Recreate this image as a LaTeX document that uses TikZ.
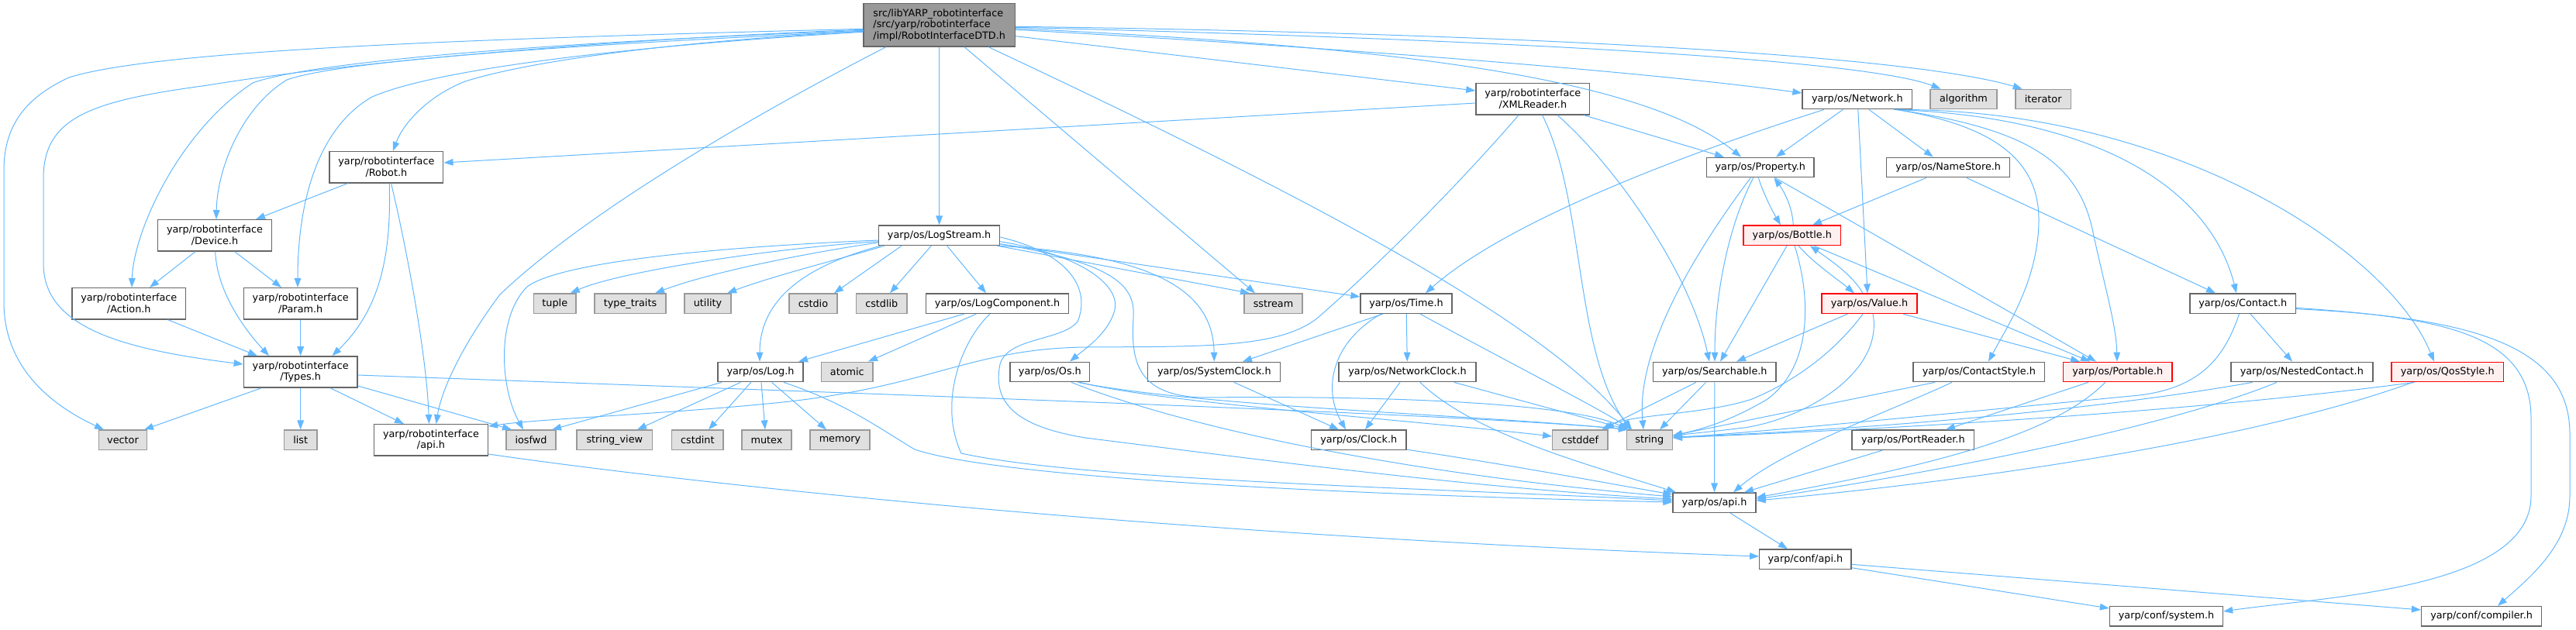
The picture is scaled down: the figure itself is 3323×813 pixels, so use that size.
\documentclass[tikz,border=0pt]{standalone}
\usepackage{fontspec}
\setmainfont{DejaVu Sans}
\usetikzlibrary{arrows.meta,calc}
\definecolor{edgec}{HTML}{63B8FF}
\definecolor{nodeb}{HTML}{666666}
\definecolor{grayf}{HTML}{E0E0E0}
\definecolor{grayb}{HTML}{999999}
\definecolor{rootf}{HTML}{999999}
\definecolor{redf}{HTML}{FFF0F0}
\definecolor{redb}{HTML}{FF0000}
\newcommand\nodefnt{\fontsize{9.6pt}{11pt}\selectfont}
\begin{document}
\begin{tikzpicture}[x=0.75pt,y=-0.75pt,
  mw/.style={minimum width=#1*0.75pt},
  mh/.style={minimum height=#1*0.75pt},
  nb/.style={draw=nodeb, fill=white, line width=1pt, inner sep=0pt, mh=25.5, align=center, font=\nodefnt},
  gb/.style={nb, draw=grayb, fill=grayf},
  rb/.style={nb, draw=redb, fill=redf},
  rootb/.style={nb, fill=rootf, align=left},
  conn/.style={draw=edgec, line width=0.75pt, -{Triangle[length=9pt,width=6.5pt]}}]
\useasboundingbox (0,0) rectangle (3323,813);
% ---------- nodes ----------
\node[rootb, mw=195.4, mh=55.3] (root) at (1211.7,32.3) {src/libYARP\_robotinterface\\/src/yarp/robotinterface\\/impl/RobotInterfaceDTD.h};
\node[nb, mw=146.8, mh=40.3] (robot) at (498.4,215.8) {yarp/robotinterface\\/Robot.h};
\node[nb, mw=146.8, mh=40.3] (device) at (277,303.8) {yarp/robotinterface\\/Device.h};
\node[nb, mw=146.8, mh=40.3] (action) at (166.3,391.8) {yarp/robotinterface\\/Action.h};
\node[nb, mw=146.8, mh=40.3] (param) at (387.7,391.8) {yarp/robotinterface\\/Param.h};
\node[nb, mw=146.8, mh=40.3] (types) at (387.7,480) {yarp/robotinterface\\/Types.h};
\node[nb, mw=146.8, mh=40.3] (riapi) at (556,567.8) {yarp/robotinterface\\/api.h};
\node[nb, mw=146.8, mh=40.3] (xml) at (1977.3,127.8) {yarp/robotinterface\\/XMLReader.h};
\node[gb, mw=62.5] (vector) at (158.5,567.8) {vector};
\node[gb, mw=42.4] (list) at (387.7,567.8) {list};
\node[gb, mw=64] (iosfwd) at (685,567.8) {iosfwd};
\node[gb, mw=97.6] (stringview) at (792.8,567.8) {string\_view};
\node[gb, mw=66.4] (cstdint) at (899.8,567.8) {cstdint};
\node[gb, mw=64] (mutex) at (989,567.8) {mutex};
\node[gb, mw=77] (memory) at (1083.5,567.8) {memory};
\node[nb, mw=110] (log) at (981,480) {yarp/os/Log.h};
\node[gb, mw=66.5] (atomic) at (1092.8,480) {atomic};
\node[gb, mw=54.5] (tuple) at (715.8,391.7) {tuple};
\node[gb, mw=92] (typetraits) at (813,391.7) {type\_traits};
\node[gb, mw=60] (utility) at (913,391.7) {utility};
\node[gb, mw=62] (cstdio) at (1049,391.7) {cstdio};
\node[gb, mw=65.5] (cstdlib) at (1137.3,391.7) {cstdlib};
\node[nb, mw=156.2] (logstream) at (1211.6,303.8) {yarp/os/LogStream.h};
\node[nb, mw=184] (logcomp) at (1286.6,391.7) {yarp/os/LogComponent.h};
\node[gb, mw=75] (sstream) at (1642.5,391.7) {sstream};
\node[nb, mw=118] (time) at (1814,391.7) {yarp/os/Time.h};
\node[nb, mw=102.8] (os) at (1354.4,480) {yarp/os/Os.h};
\node[nb, mw=171] (sysclock) at (1566.3,480) {yarp/os/SystemClock.h};
\node[nb, mw=177] (netclock) at (1815.5,480) {yarp/os/NetworkClock.h};
\node[nb, mw=122.5] (clock) at (1752.8,567.8) {yarp/os/Clock.h};
\node[nb, mw=141.6] (network) at (2395.8,128) {yarp/os/Network.h};
\node[gb, mw=86] (algorithm) at (2533,128) {algorithm};
\node[gb, mw=71.4] (iterator) at (2635.7,128) {iterator};
\node[nb, mw=138.3] (property) at (2270.8,216) {yarp/os/Property.h};
\node[nb, mw=159] (namestore) at (2513.2,216) {yarp/os/NameStore.h};
\node[rb, mw=125.7] (bottle) at (2311.8,303.8) {yarp/os/Bottle.h};
\node[rb, mw=123] (value) at (2411.5,391.8) {yarp/os/Value.h};
\node[nb, mw=136.5] (contact) at (2893.2,391.7) {yarp/os/Contact.h};
\node[nb, mw=158.4] (searchable) at (2211.8,480) {yarp/os/Searchable.h};
\node[nb, mw=169.7] (contactstyle) at (2552.9,480) {yarp/os/ContactStyle.h};
\node[rb, mw=140] (portable) at (2731.8,480) {yarp/os/Portable.h};
\node[nb, mw=183] (nested) at (2969.3,480) {yarp/os/NestedContact.h};
\node[rb, mw=144.6] (qos) at (3157.3,480) {yarp/os/QosStyle.h};
\node[gb, mw=71.3] (cstddef) at (2038.4,567.8) {cstddef};
\node[gb, mw=59] (string) at (2127.8,567.8) {string};
\node[nb, mw=157.6] (portreader) at (2467.8,567.8) {yarp/os/PortReader.h};
\node[nb, mw=107] (osapi) at (2211.5,648.7) {yarp/os/api.h};
\node[nb, mw=118.2] (confapi) at (2328.9,721.8) {yarp/conf/api.h};
\node[nb, mw=146] (system) at (2794.5,795.2) {yarp/conf/system.h};
\node[nb, mw=155.2] (compiler) at (3201.1,795.2) {yarp/conf/compiler.h};
% ---------- root edges ----------
\draw[conn] ($(root.west)+(0,5)$) .. controls (600,50) and (200,65) .. (89,100) .. controls (35,125) and (5,160) .. (5,220) -- (5,390) .. controls (5,470) and (60,520) .. ($(vector.north)+(-24.5,0)$);
\draw[conn] ($(root.west)+(0,6)$) .. controls (800,50) and (450,80) .. (268,110) .. controls (120,130) and (56,150) .. (56,230) -- (56,340) .. controls (56,420) and (150,450) .. ($(types.west)+(0,-10)$);
\draw[conn] ($(root.west)+(0,7)$) .. controls (700,55) and (400,80) .. (326,107) .. controls (230,170) and (172,300) .. ($(action.north)+(3.7,0)$);
\draw[conn] ($(root.west)+(0,8)$) .. controls (800,55) and (450,75) .. (370,103) .. controls (310,140) and (280,220) .. ($(device.north)+(2,0)$);
\draw[conn] ($(root.west)+(0,9)$) .. controls (800,60) and (560,90) .. (480,125) .. controls (410,165) and (384,260) .. ($(param.north)+(-3.7,0)$);
\draw[conn] ($(root.west)+(0,8)$) .. controls (850,55) and (680,80) .. (600,105) .. controls (550,125) and (520,160) .. ($(robot.north)+(8.4,0)$);
\draw[conn] ($(root.south)+(-68.7,0)$) .. controls (950,160) and (750,280) .. (645,380) .. controls (600,440) and (570,500) .. ($(riapi.north)+(6.6,0)$);
\draw[conn] (root) -- (logstream);
\draw[conn] ($(root.south)+(32.3,0)$) -- ($(sstream.north)+(-23.5,0)$);
\draw[conn] ($(root.south)+(63.3,0)$) .. controls (1700,260) and (2000,420) .. ($(string.north)+(-22.8,0)$);
\draw[conn] ($(root.east)+(0,14.4)$) -- ($(xml.west)+(0,-10.8)$);
\draw[conn] ($(root.east)+(0,4.4)$) .. controls (1800,60) and (2120,100) .. ($(property.north)+(-24.8,0)$);
\draw[conn] ($(root.east)+(0,6)$) .. controls (1700,60) and (2100,90) .. ($(network.west)+(0,-8)$);
\draw[conn] ($(root.east)+(0,3)$) .. controls (1900,50) and (2400,75) .. ($(algorithm.north)+(-29.6,0)$);
\draw[conn] ($(root.east)+(0,2)$) .. controls (1900,42) and (2450,68) .. ($(iterator.north)+(-27,0)$);
% ---------- XMLReader ----------
\draw[conn] ($(xml.west)+(0,5.2)$) -- ($(robot.east)+(0,-5.8)$);
\draw[conn] ($(xml.south)+(-18.3,0)$) .. controls (1880,240) and (1780,340) .. (1700,410) .. controls (1650,450) and (1550,447) .. (1400,448) .. controls (1250,450) and (1200,500) .. (1000,520) .. controls (850,535) and (700,540) .. ($(riapi.east)+(0,-17.8)$);
\draw[conn] ($(xml.south)+(65.7,0)$) -- ($(property.north)+(-46.8,0)$);
\draw[conn] ($(xml.south)+(12.3,0)$) .. controls (2045,260) and (2030,450) .. ($(string.north)+(-24.8,0)$);
\draw[conn] ($(xml.south)+(31.7,0)$) .. controls (2080,210) and (2180,350) .. ($(searchable.north)+(-6.8,0)$);
% ---------- Network ----------
\draw[conn] ($(network.south)+(-18.4,0)$) -- ($(property.north)+(20.2,0)$);
\draw[conn] ($(network.south)+(15.2,0)$) -- ($(namestore.north)+(-19.5,0)$);
\draw[conn] ($(network.south)+(1,0)$) -- ($(value.north)+(-2.5,0)$);
\draw[conn] ($(network.south)+(-42.8,0)$) .. controls (2200,190) and (1950,280) .. ($(time.north)+(25,0)$);
\draw[conn] ($(network.south)+(47,0)$) .. controls (2700,150) and (2850,240) .. ($(contact.north)+(-8.2,0)$);
\draw[conn] ($(network.south)+(49,0)$) .. controls (2800,140) and (3080,320) .. ($(qos.north)+(-17.3,0)$);
\draw[conn] ($(network.south)+(50,0)$) .. controls (2560,160) and (2630,200) .. (2630,283) .. controls (2630,360) and (2590,420) .. ($(contactstyle.north)+(12.1,0)$);
\draw[conn] ($(network.south)+(51,0)$) .. controls (2600,165) and (2680,200) .. (2700,300) .. controls (2715,370) and (2730,420) .. ($(portable.north)+(-0.8,0)$);
% ---------- Property / Bottle / Value ----------
\draw[conn] ($(property.south)+(-2.5,0)$) .. controls (2275,250) and (2285,270) .. ($(bottle.north)+(-14.8,0)$);
\draw[conn] ($(bottle.north)+(1.5,0)$) .. controls (2312,265) and (2300,245) .. ($(property.south)+(17.5,0)$);
\draw[conn] ($(property.south)+(-9,0)$) .. controls (2230,290) and (2212,380) .. ($(searchable.north)+(0.2,0)$);
\draw[conn] ($(property.south)+(-12.5,0)$) .. controls (2190,320) and (2110,450) .. ($(string.north)+(-7.8,0)$);
\draw[conn] ($(property.south)+(19.2,0)$) -- ($(portable.north)+(-27.8,0)$);
\draw[conn] ($(bottle.south)+(-6.8,0)$) -- ($(searchable.north)+(7.2,0)$);
\draw[conn] ($(bottle.south)+(3.2,0)$) .. controls (2335,380) and (2340,470) .. (2280,515) .. controls (2230,545) and (2190,555) .. ($(string.east)+(0,-5.8)$);
\draw[conn] ($(bottle.south)+(8.2,0)$) .. controls (2340,340) and (2370,360) .. ($(value.north)+(-19.5,0)$);
\draw[conn] ($(bottle.south)+(28.2,0)$) -- ($(portable.north)+(-35.8,0)$);
\draw[conn] ($(value.north)+(-8.5,0)$) .. controls (2390,355) and (2360,335) .. ($(bottle.south)+(23.2,0)$);
\draw[conn] ($(value.south)+(-28.2,0)$) -- ($(searchable.north)+(28.2,0)$);
\draw[conn] ($(value.south)+(-8.5,0)$) .. controls (2370,450) and (2320,490) .. (2260,515) .. controls (2200,535) and (2100,535) .. ($(cstddef.north)+(31.6,0)$);
\draw[conn] ($(value.south)+(4.5,0)$) .. controls (2430,480) and (2330,540) .. (2250,552) .. controls (2200,558) and (2175,560) .. ($(string.east)+(0,-4.8)$);
\draw[conn] ($(value.south)+(43.5,0)$) -- ($(portable.north)+(-48.8,0)$);
% ---------- NameStore / Contact ----------
\draw[conn] ($(namestore.south)+(-28.2,0)$) -- ($(bottle.north)+(26.2,0)$);
\draw[conn] ($(namestore.south)+(23.5,0)$) -- ($(contact.north)+(-35.2,0)$);
\draw[conn] ($(contact.south)+(9.8,0)$) -- ($(nested.north)+(-12.3,0)$);
\draw[conn] ($(contact.south)+(-4.7,0)$) .. controls (2870,460) and (2840,500) .. (2760,510) .. controls (2500,535) and (2300,555) .. ($(string.east)+(0,-2.8)$);
\draw[conn] ($(contact.east)+(0,5.6)$) .. controls (3150,410) and (3265,430) .. (3265,540) -- (3265,640) .. controls (3265,760) and (3000,770) .. ($(system.east)+(0,-6.2)$);
\draw[conn] ($(contact.east)+(0,7)$) .. controls (3200,410) and (3315,450) .. (3315,560) -- (3315,640) .. controls (3315,700) and (3270,740) .. ($(compiler.north)+(20.9,0)$);
% ---------- Nested / Qos / Portable / ContactStyle / PortReader ----------
\draw[conn] ($(nested.south)+(-63.8,0)$) .. controls (2700,530) and (2400,555) .. ($(string.east)+(0,-3.8)$);
\draw[conn] ($(nested.south)+(-32.3,0)$) .. controls (2800,550) and (2500,610) .. ($(osapi.east)+(0,-4.7)$);
\draw[conn] ($(qos.south)+(-42.6,0)$) .. controls (2800,535) and (2400,555) .. ($(string.east)+(0,-2.8)$);
\draw[conn] ($(qos.south)+(-45,0)$) .. controls (2900,570) and (2550,620) .. ($(osapi.east)+(0,-2.7)$);
\draw[conn] ($(portable.south)+(-38,0)$) -- ($(portreader.north)+(42.2,0)$);
\draw[conn] ($(portable.south)+(-16.1,0)$) .. controls (2650,560) and (2500,600) .. ($(osapi.east)+(0,-6.7)$);
\draw[conn] ($(contactstyle.south)+(-56.9,0)$) -- ($(string.east)+(0,-5.8)$);
\draw[conn] ($(contactstyle.south)+(-34.9,0)$) .. controls (2440,530) and (2300,580) .. ($(osapi.north)+(24.5,0)$);
\draw[conn] ($(portreader.south)+(-39.8,0)$) -- ($(osapi.north)+(38.5,0)$);
% ---------- Searchable / api ----------
\draw[conn] ($(searchable.south)+(-23.8,0)$) -- ($(cstddef.north)+(27.6,0)$);
\draw[conn] ($(searchable.south)+(-11.3,0)$) -- ($(string.north)+(13.2,0)$);
\draw[conn] (searchable) -- (osapi);
\draw[conn] ($(osapi.south)+(20.5,0)$) -- ($(confapi.north)+(-22.9,0)$);
\draw[conn] ($(confapi.east)+(0,6.5)$) -- ($(compiler.west)+(0,-8.2)$);
\draw[conn] ($(confapi.east)+(0,10.9)$) -- ($(system.west)+(0,-10.2)$);
\draw[conn] ($(riapi.east)+(0,18.2)$) .. controls (900,625) and (1500,690) .. ($(confapi.west)+(0,-3.8)$);
% ---------- robotinterface ----------
\draw[conn] ($(robot.south)+(-49.8,0)$) -- ($(device.north)+(53,0)$);
\draw[conn] ($(robot.south)+(3.8,0)$) .. controls (505,330) and (490,400) .. ($(types.north)+(40.8,0)$);
\draw[conn] ($(robot.south)+(6.1,0)$) .. controls (520,300) and (550,450) .. ($(riapi.north)+(-2.5,0)$);
\draw[conn] ($(device.south)+(-24.8,0)$) -- ($(action.north)+(26.7,0)$);
\draw[conn] ($(device.south)+(25.7,0)$) -- ($(param.north)+(-24.7,0)$);
\draw[conn] ($(device.south)+(0.7,0)$) .. controls (280,380) and (320,430) .. ($(types.north)+(-40.7,0)$);
\draw[conn] ($(action.south)+(50.2,0)$) -- ($(types.north)+(-55.7,0)$);
\draw[conn] (param) -- (types);
\draw[conn] ($(types.south)+(-50.7,0)$) -- ($(vector.north)+(27.5,0)$);
\draw[conn] (types) -- (list);
\draw[conn] ($(types.south)+(38.6,0)$) -- ($(riapi.north)+(-35,0)$);
\draw[conn] ($(types.east)+(0,18)$) -- ($(iosfwd.north)+(-25,0)$);
\draw[conn] ($(types.east)+(0,4)$) .. controls (1200,511) and (1900,535) .. ($(string.north)+(-27.8,0)$);
% ---------- LogStream ----------
\draw[conn] ($(logstream.west)+(0,6.2)$) .. controls (900,320) and (720,340) .. (680,370) .. controls (640,410) and (645,500) .. ($(iosfwd.north)+(-10,0)$);
\draw[conn] ($(logstream.west)+(0,7.9)$) .. controls (1000,320) and (800,350) .. ($(tuple.north)+(20,0)$);
\draw[conn] ($(logstream.west)+(0,9.2)$) .. controls (1050,325) and (920,350) .. ($(typetraits.north)+(32,0)$);
\draw[conn] ($(logstream.south)+(-71,0)$) .. controls (1100,330) and (1000,355) .. ($(utility.north)+(25,0)$);
\draw[conn] ($(logstream.south)+(-48.6,0)$) -- ($(cstdio.north)+(27,0)$);
\draw[conn] ($(logstream.south)+(-10.3,0)$) -- ($(cstdlib.north)+(10.7,0)$);
\draw[conn] ($(logstream.south)+(-75.6,0)$) .. controls (1050,340) and (980,380) .. ($(log.north)+(-1,0)$);
\draw[conn] ($(logstream.south)+(10.1,0)$) -- ($(logcomp.north)+(-14.6,0)$);
\draw[conn] ($(logstream.south)+(75,0)$) -- ($(sstream.north)+(-30.5,0)$);
\draw[conn] ($(logstream.east)+(0,11.2)$) -- ($(time.west)+(0,-8.7)$);
\draw[conn] ($(logstream.east)+(0,7.9)$) .. controls (1400,330) and (1445,370) .. (1438,400) .. controls (1430,430) and (1400,450) .. ($(os.north)+(25.6,0)$);
\draw[conn] ($(logstream.east)+(0,2.2)$) .. controls (1390,330) and (1405,380) .. (1390,415) .. controls (1370,440) and (1300,435) .. (1290,470) .. controls (1280,520) and (1310,550) .. (1400,565) .. controls (1600,590) and (1900,630) .. ($(osapi.west)+(0,-4.7)$);
\draw[conn] ($(logstream.south)+(77,0)$) .. controls (1500,330) and (1565,380) .. (sysclock.north);
\draw[conn] ($(logstream.east)+(0,11)$) .. controls (1440,340) and (1465,370) .. (1462,410) .. controls (1458,470) and (1470,510) .. (1550,513) .. controls (1850,510) and (2040,525) .. ($(string.north)+(-27.8,0)$);
% ---------- Os / clocks / time ----------
\draw[conn] ($(os.south)+(38.6,0)$) .. controls (1500,520) and (1800,540) .. ($(cstddef.west)+(0,-4.8)$);
\draw[conn] ($(os.south)+(36,0)$) .. controls (1550,525) and (1900,535) .. ($(string.north)+(-27.8,0)$);
\draw[conn] ($(os.south)+(27.6,0)$) .. controls (1550,560) and (1850,615) .. ($(osapi.west)+(0,-7.7)$);
\draw[conn] ($(sysclock.south)+(25.7,0)$) -- ($(clock.north)+(-25.8,0)$);
\draw[conn] ($(time.south)+(-30,0)$) -- ($(sysclock.north)+(36.7,0)$);
\draw[conn] (time) -- (netclock);
\draw[conn] ($(time.south)+(-32.3,0)$) .. controls (1720,440) and (1705,500) .. ($(clock.north)+(-16.8,0)$);
\draw[conn] ($(time.south)+(18,0)$) .. controls (1950,470) and (2050,520) .. ($(string.north)+(-22.8,0)$);
\draw[conn] ($(netclock.south)+(-9.5,0)$) -- ($(clock.north)+(8.2,0)$);
\draw[conn] ($(netclock.south)+(16.5,0)$) .. controls (1900,560) and (2050,600) .. ($(osapi.north)+(-49.5,0)$);
\draw[conn] ($(netclock.south)+(60.2,0)$) -- ($(string.north)+(-27.8,0)$);
\draw[conn] ($(clock.south east)+(0,-1)$) .. controls (1950,600) and (2080,625) .. ($(osapi.west)+(0,-10.7)$);
% ---------- Log / LogComponent ----------
\draw[conn] ($(log.south)+(-50,0)$) -- ($(iosfwd.north)+(27,0)$);
\draw[conn] ($(log.south)+(-25.6,0)$) -- ($(stringview.north)+(29.2,0)$);
\draw[conn] ($(log.south)+(-12.2,0)$) -- ($(cstdint.north)+(14.2,0)$);
\draw[conn] ($(log.south)+(1,0)$) -- ($(mutex.north)+(-2,0)$);
\draw[conn] ($(log.south)+(14.6,0)$) -- ($(memory.north)+(-17.5,0)$);
\draw[conn] ($(log.south)+(30,0)$) .. controls (1090,520) and (1130,550) .. (1180,580) .. controls (1300,620) and (1800,640) .. ($(osapi.west)+(0,-0.7)$);
\draw[conn] ($(logcomp.south)+(-42.9,0)$) -- ($(log.north)+(49,0)$);
\draw[conn] ($(logcomp.south)+(-27.2,0)$) -- ($(atomic.north)+(27.2,0)$);
\draw[conn] ($(logcomp.south)+(-9.6,0)$) .. controls (1240,440) and (1210,520) .. (1240,585) .. controls (1400,620) and (1850,630) .. ($(osapi.west)+(0,-2.7)$);
\end{tikzpicture}
\end{document}
